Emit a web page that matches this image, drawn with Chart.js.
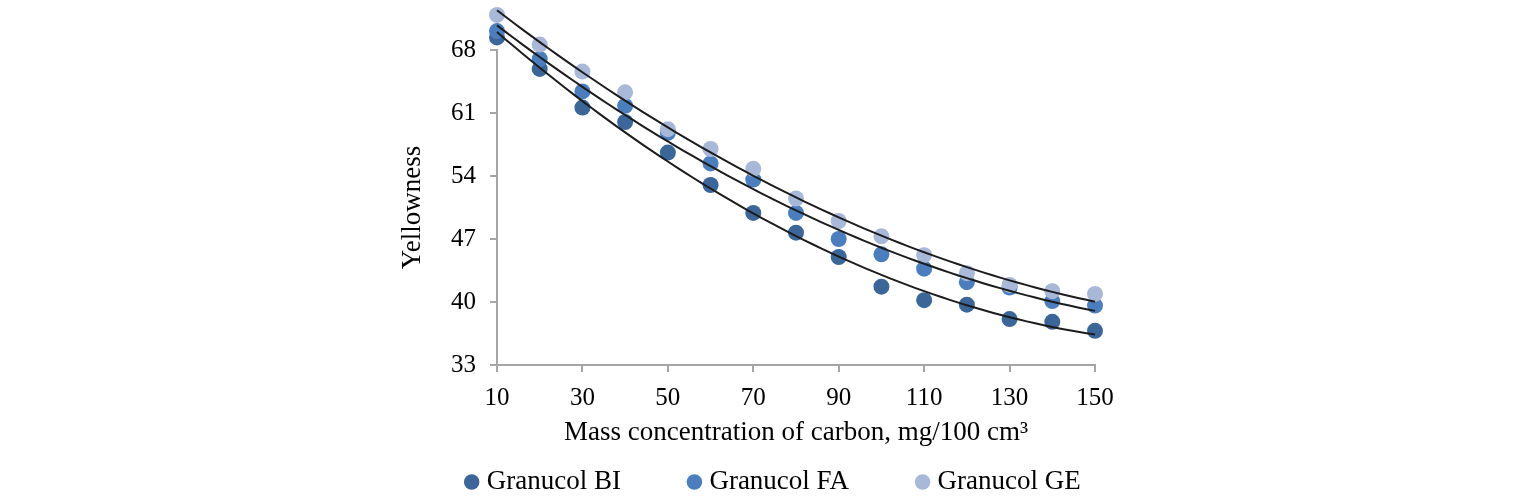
<!DOCTYPE html>
<html>
<head>
<meta charset="utf-8">
<script src="https://cdn.jsdelivr.net/npm/chart.js@4"></script>
<style>
html,body{margin:0;padding:0;background:#fff;}
#wrap{position:relative;width:1516px;height:504px;}
</style>
</head>
<body>
<div id="wrap"><canvas id="c" width="1516" height="504"></canvas></div>
<script>
const concentration = [10, 20, 30, 40, 50, 60, 70, 80, 90, 100, 110, 120, 130, 140, 150];
const granucolBI = [69.4, 65.9, 61.6, 60.0, 56.6, 53.0, 49.9, 47.7, 45.0, 41.7, 40.2, 39.7, 38.1, 37.8, 36.8];
const granucolFA = [70.1, 67.0, 63.4, 61.8, 58.8, 55.4, 53.6, 49.9, 47.0, 45.3, 43.7, 42.2, 41.6, 40.1, 39.6];
const granucolGE = [71.9, 68.6, 65.6, 63.3, 59.2, 57.0, 54.8, 51.5, 49.0, 47.3, 45.2, 43.2, 41.9, 41.2, 40.9];
const seriesNames = ['Granucol BI', 'Granucol FA', 'Granucol GE'];
const xTicks = {min: 10, max: 150, step: 20};
const yTicks = {min: 33, max: 68, step: 7};

const colors = ['#3b6699', '#4a7ebe', '#a7b8d9'];
const serif = 'Liberation Serif';

function toPoints(xs, ys) { return xs.map((x, i) => ({x: x, y: ys[i]})); }

// second-order polynomial least-squares trendline (as the source chart's trendlines)
function quadFit(xs, ys) {
  let n = xs.length, s1=0, s2=0, s3=0, s4=0, t0=0, t1=0, t2=0;
  for (let i = 0; i < n; i++) {
    const x = xs[i], y = ys[i];
    s1 += x; s2 += x*x; s3 += x*x*x; s4 += x*x*x*x;
    t0 += y; t1 += x*y; t2 += x*x*y;
  }
  const M = [[n, s1, s2], [s1, s2, s3], [s2, s3, s4]];
  const B = [t0, t1, t2];
  const det = m => m[0][0]*(m[1][1]*m[2][2]-m[1][2]*m[2][1]) - m[0][1]*(m[1][0]*m[2][2]-m[1][2]*m[2][0]) + m[0][2]*(m[1][0]*m[2][1]-m[1][1]*m[2][0]);
  const D = det(M);
  return [0,1,2].map(k => {
    const Mk = M.map((row, r) => row.map((v, c) => c === k ? B[r] : v));
    return det(Mk) / D;
  });
}
function trend(xs, ys) {
  const c = quadFit(xs, ys);
  const pts = [];
  const x0 = xs[0], x1 = xs[xs.length - 1];
  for (let x = x0; x <= x1 + 1e-9; x += 2) pts.push({x: x, y: c[0] + c[1]*x + c[2]*x*x});
  return pts;
}

const allSeries = [granucolBI, granucolFA, granucolGE];
const datasets = [];
allSeries.forEach((ys, i) => {
  datasets.push({
    label: seriesNames[i],
    data: toPoints(concentration, ys),
    backgroundColor: colors[i],
    borderColor: colors[i],
    borderWidth: 0,
    pointRadius: 8,
    pointHoverRadius: 8,
    showLine: false,
    clip: false,
    order: 3 - i
  });
});
allSeries.forEach((ys, i) => {
  datasets.push({
    label: 'trend ' + seriesNames[i],
    data: trend(concentration, ys),
    borderColor: '#1c1c1c',
    borderWidth: 2,
    pointRadius: 0,
    showLine: true,
    fill: false,
    clip: false,
    order: 0,
    isTrend: true
  });
});

// places the legend row and lets markers spill above the plot top (as in the source)
const layoutTweaks = {
  id: 'layoutTweaks',
  afterLayout(chart) {
    const lg = chart.legend;
    if (!lg) return;
    const targetCenter = 775.5;
    const dx = targetCenter - (lg.left + lg.right) / 2;
    lg.left += dx; lg.right += dx;
    const p = chart.options.plugins.legend.labels.padding;
    lg.top = 482 - 13.5 - p;
    lg.bottom = chart.height;
    lg.height = lg.bottom - lg.top;
  },
  beforeDatasetsDraw(chart) {
    const a = chart.chartArea;
    chart._savedArea = {left: a.left, top: a.top, right: a.right, bottom: a.bottom, width: a.width, height: a.height};
    a.top = a.top - 60; a.height = a.bottom - a.top;
  },
  afterDatasetsDraw(chart) {
    const s = chart._savedArea;
    if (s) Object.assign(chart.chartArea, s);
  }
};

Chart.defaults.color = '#000';
Chart.defaults.font.family = serif;

new Chart(document.getElementById('c'), {
  type: 'scatter',
  data: {datasets: datasets},
  options: {
    responsive: false,
    animation: false,
    events: [],
    layout: {padding: {left: 380, right: 0, top: 50, bottom: 0}},
    scales: {
      x: {
        type: 'linear',
        min: xTicks.min, max: xTicks.max,
        ticks: {stepSize: xTicks.step, font: {size: 25, family: serif}, color: '#000', padding: 11, maxRotation: 0},
        grid: {drawOnChartArea: false, drawTicks: true, tickLength: 7, color: '#a5a5a5', lineWidth: 2},
        border: {color: '#a5a5a5', width: 2},
        title: {display: true, text: 'Mass concentration of carbon, mg/100 cm\u00B3', font: {size: 27, family: serif}, color: '#000', padding: {top: 0, bottom: 15}},
        afterFit(scale) { scale.height = 99; }
      },
      y: {
        type: 'linear',
        min: yTicks.min, max: yTicks.max,
        ticks: {stepSize: yTicks.step, font: {size: 25, family: serif}, color: '#000', padding: 14},
        grid: {drawOnChartArea: false, drawTicks: true, tickLength: 7, color: '#a5a5a5', lineWidth: 2},
        border: {color: '#a5a5a5', width: 2},
        title: {display: true, text: 'Yellowness', font: {size: 27, family: serif}, color: '#000', padding: {top: 17, bottom: 0}},
        afterFit(scale) { scale.width = 117; }
      },
      rightSpace: {
        type: 'linear',
        position: 'right',
        display: false,
        afterFit(scale) { scale.width = 421; }
      }
    },
    plugins: {
      legend: {
        position: 'bottom',
        maxHeight: 40,
        labels: {
          usePointStyle: true,
          pointStyle: 'circle',
          boxWidth: 3,
          boxHeight: 11,
          padding: 72,
          font: {size: 27, family: serif},
          color: '#000',
          filter: (item, data) => !data.datasets[item.datasetIndex].isTrend,
          sort: (a, b) => a.datasetIndex - b.datasetIndex
        }
      },
      tooltip: {enabled: false}
    }
  },
  plugins: [layoutTweaks]
});
</script>
</body>
</html>
